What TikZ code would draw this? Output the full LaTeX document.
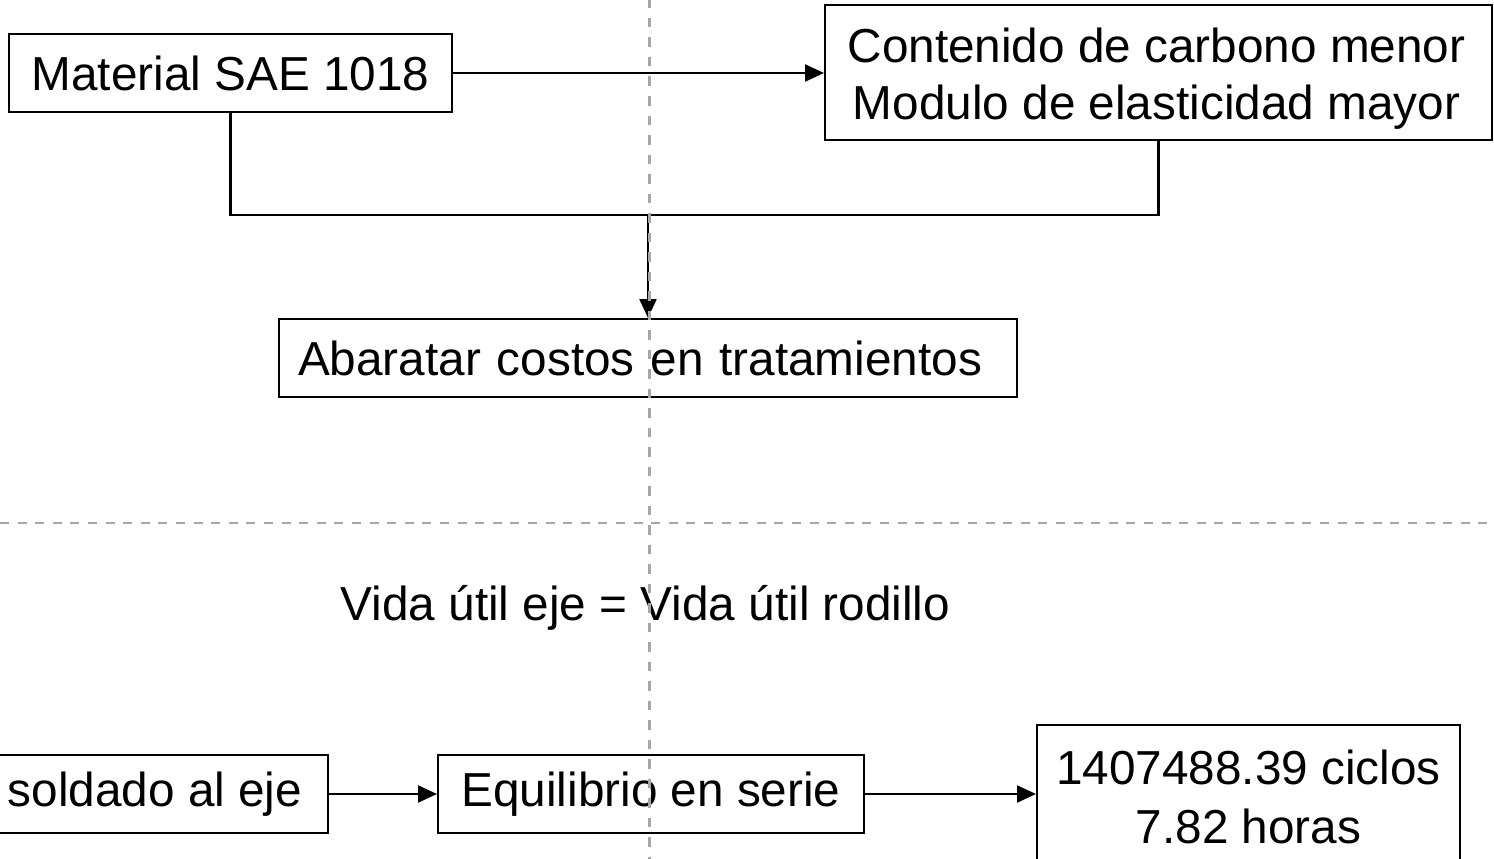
\documentclass[tikz,border=0pt]{standalone}
\usepackage{fontspec}
\setmainfont{Liberation Sans}
\usetikzlibrary{arrows.meta}
\definecolor{dashgray}{RGB}{166,166,166}
\tikzset{
  boxnode/.style={draw=black, line width=2pt, fill=white, inner sep=0pt, align=center,
    font=\fontsize{47.7pt}{57.2pt}\selectfont},
  conn/.style={draw=black, line width=2.3pt},
  arr/.style={conn, -{Triangle[length=19pt,width=17pt]}},
  guide/.style={draw=dashgray, line width=2.5pt},
  plaintext/.style={inner sep=0pt, align=center, font=\fontsize{47.7pt}{57.2pt}\selectfont}
}
\begin{document}
\begin{tikzpicture}[x=1pt, y=-1pt]
\useasboundingbox (0,0) rectangle (1494,859);
\fill[white] (0,0) rectangle (1494,859);
\clip (0,0) rectangle (1494,859);

\node[boxnode, minimum width=443pt, minimum height=78pt] (mat) at (230.5,73) {Material SAE 1018};
\node[boxnode, minimum width=667pt, minimum height=135pt] (cont) at (1158.5,72.5) {};
\node[plaintext] (conttext) at (1156.5,79)
  {Contenido de carbono menor\\Modulo de elasticidad mayor};
\node[boxnode, text width=700pt, inner xsep=19pt, minimum height=78pt, align=left] (abar) at (648,358)
  {Abaratar costos en tratamientos};

\node[plaintext, anchor=base] (vida) at (645.5,620) {Vida útil eje = Vida útil rodillo};

\node[boxnode, minimum width=346pt, minimum height=78pt] (sold) at (155,794) {soldado al eje};
\node[boxnode, minimum width=426pt, minimum height=78pt] (equi) at (651,794) {Equilibrio en serie};
\node[boxnode, minimum width=423pt, minimum height=144pt,
  font=\fontsize{47.7pt}{59pt}\selectfont] (cic) at (1248.5,797)
  {1407488.39 ciclos\\7.82 horas};

\coordinate (j) at (648,215);

\draw[arr] (mat.east) -- (mat.east -| cont.west);
\draw[conn] (mat.south) |- (j) -| (cont.south);
\draw[arr] (j) -- (abar.north);
\draw[arr] (sold.east) -- (sold.east -| equi.west);
\draw[arr] (equi.east) -- (equi.east -| cic.west);

\coordinate (vt) at (649.5,-1.5);
\coordinate (vb) at (649.5,870);
\coordinate (hl) at (0,523);
\coordinate (hr) at (1500,523);
\draw[guide, dash pattern=on 9.5pt off 10pt] (vt) -- (vb);
\draw[guide, dash pattern=on 9pt off 8.6pt] (hl) -- (hr);
\end{tikzpicture}
\end{document}
